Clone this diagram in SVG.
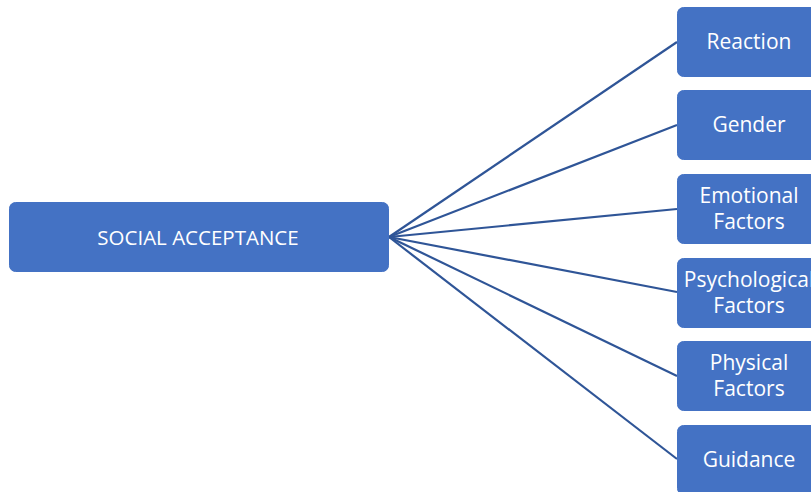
<svg xmlns="http://www.w3.org/2000/svg" width="811" height="492" viewBox="0 0 811 492">
<style>
.box{fill:#4472C4;stroke:#4472C4;stroke-width:1}
.t{font-family:"Open Sans","Liberation Sans",sans-serif;font-size:21px;fill:#ffffff;text-anchor:middle}
.c{stroke:#2F5597;stroke-width:2.2;fill:none}
</style>
<rect width="811" height="492" fill="#ffffff"/>
<g id="connectors">
<line class="c" x1="389" y1="237" x2="677" y2="42"/>
<line class="c" x1="389" y1="237" x2="677" y2="125"/>
<line class="c" x1="389" y1="237" x2="677" y2="209"/>
<line class="c" x1="389" y1="237" x2="677" y2="292"/>
<line class="c" x1="389" y1="237" x2="677" y2="376"/>
<line class="c" x1="389" y1="237" x2="677" y2="459"/>
</g>
<g id="social-acceptance">
<rect class="box" x="9.5" y="202.5" width="379" height="69" rx="6"/>
<text class="t" x="198" y="245" style="font-size:20.5px">SOCIAL ACCEPTANCE</text>
</g>
<g id="reaction">
<rect class="box" x="677.5" y="7.5" width="145" height="69" rx="6"/>
<text class="t" x="749" y="49">Reaction</text>
</g>
<g id="gender">
<rect class="box" x="677.5" y="90.5" width="145" height="69" rx="6"/>
<text class="t" x="749" y="132">Gender</text>
</g>
<g id="emotional">
<rect class="box" x="677.5" y="174.5" width="145" height="69" rx="6"/>
<text class="t" x="749" y="203">Emotional</text>
<text class="t" x="749" y="229">Factors</text>
</g>
<g id="psychological">
<rect class="box" x="677.5" y="258.5" width="145" height="69" rx="6"/>
<text class="t" x="749" y="287">Psychological</text>
<text class="t" x="749" y="313">Factors</text>
</g>
<g id="physical">
<rect class="box" x="677.5" y="341.5" width="145" height="69" rx="6"/>
<text class="t" x="749" y="370">Physical</text>
<text class="t" x="749" y="396">Factors</text>
</g>
<g id="guidance">
<rect class="box" x="677.5" y="425.5" width="145" height="69" rx="6"/>
<text class="t" x="749" y="467">Guidance</text>
</g>
</svg>
